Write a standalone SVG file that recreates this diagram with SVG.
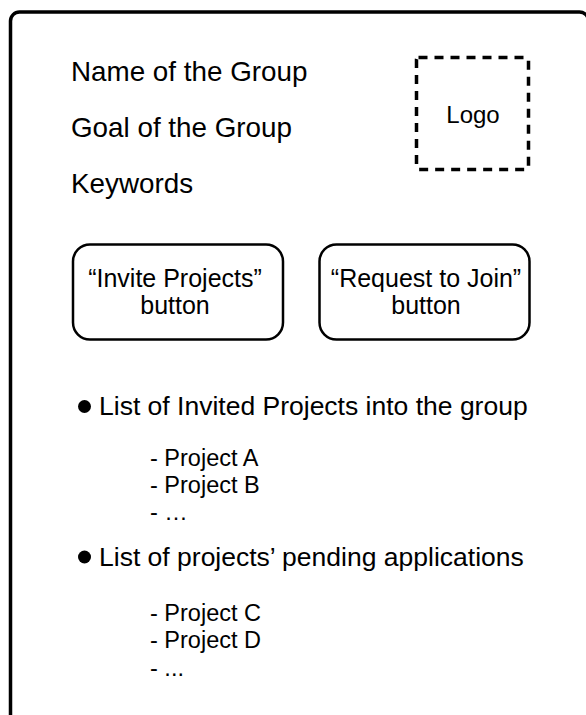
<svg xmlns="http://www.w3.org/2000/svg" width="586" height="715" viewBox="0 0 586 715">
<style>
text { font-family: "Liberation Sans", Arial, sans-serif; fill: #000; }
.title { font-size: 27.8px; }
.btn { fill: #fff; stroke: #000; stroke-width: 2.5; }
.btxt { font-size: 25px; text-anchor: middle; }
.head { font-size: 26.5px; }
.item { font-size: 23.5px; }
</style>
<rect x="0" y="0" width="586" height="715" fill="#fff"/>
<g id="frame">
<rect x="10.5" y="12" width="578" height="740" rx="9" fill="#fff" stroke="#000" stroke-width="3.5"/>
</g>
<g id="group-info">
<text class="title" x="71" y="81">Name of the Group</text>
<text class="title" x="71" y="137">Goal of the Group</text>
<text class="title" x="71" y="193">Keywords</text>
</g>
<g id="logo">
<rect x="416.5" y="57.5" width="112" height="112" rx="2" fill="none" stroke="#000" stroke-width="3.5" stroke-dasharray="9 7"/>
<text x="473" y="123" font-size="24" text-anchor="middle">Logo</text>
</g>
<g id="invite-button">
<rect class="btn" x="73" y="244.5" width="210" height="95" rx="17"/>
<text class="btxt" x="175" y="287">“Invite Projects”</text>
<text class="btxt" x="175" y="314">button</text>
</g>
<g id="join-button">
<rect class="btn" x="319.5" y="244.5" width="210" height="95" rx="17"/>
<text class="btxt" x="426" y="287">“Request to Join”</text>
<text class="btxt" x="426" y="314">button</text>
</g>
<g id="invited-list">
<circle cx="84.5" cy="406.5" r="6.5"/>
<text class="head" x="99" y="415">List of Invited Projects into the group</text>
<text class="item" x="150" y="466">- Project A</text>
<text class="item" x="150" y="492.5">- Project B</text>
<text class="item" x="150" y="520">- …</text>
</g>
<g id="pending-list">
<circle cx="84.5" cy="557" r="6.5"/>
<text class="head" x="99" y="565.5">List of projects’ pending applications</text>
<text class="item" x="150" y="620.5">- Project C</text>
<text class="item" x="150" y="648">- Project D</text>
<text class="item" x="150" y="676">- ...</text>
</g>
<g id="connectors"></g>
</svg>
